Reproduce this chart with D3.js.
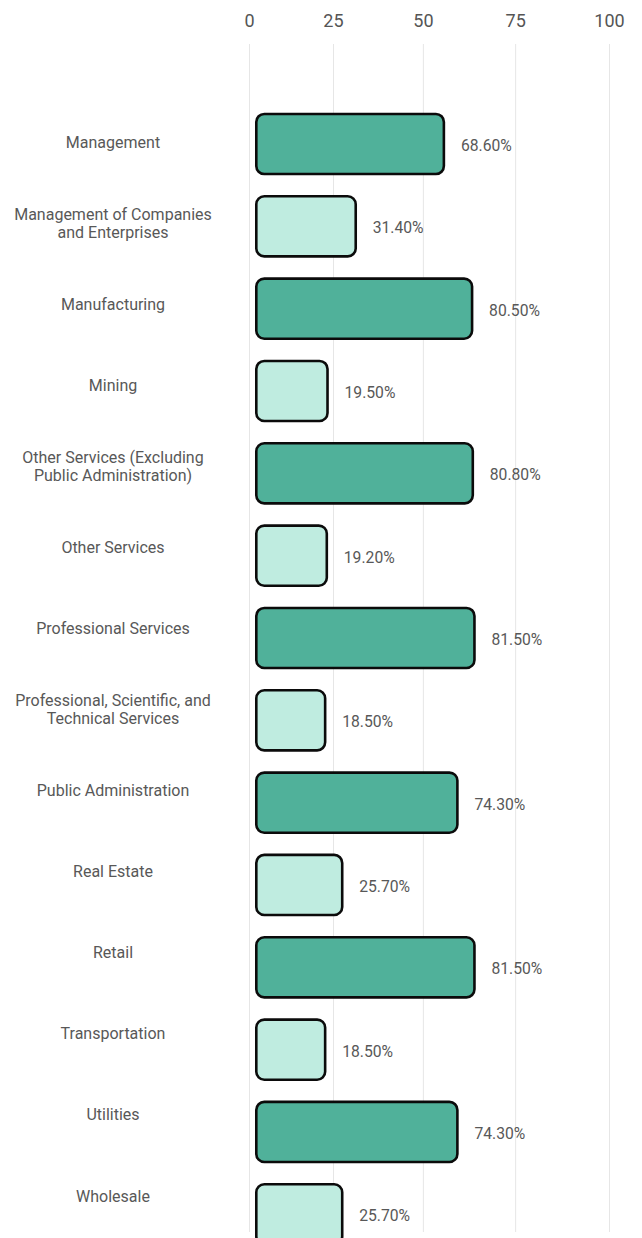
<!DOCTYPE html>
<html>
<head>
<meta charset="utf-8">
<script src="https://cdn.jsdelivr.net/npm/d3@7"></script>
<style>
  html, body { margin: 0; padding: 0; background: #ffffff; }
  svg { display: block; font-family: Roboto, "Noto Sans", sans-serif; }
</style>
</head>
<body>
<svg id="chart" width="642" height="1238"></svg>
<script>
// Industry categories, top to bottom
const categories = [
  "Management",
  "Management of Companies and Enterprises",
  "Manufacturing",
  "Mining",
  "Other Services (Excluding Public Administration)",
  "Other Services",
  "Professional Services",
  "Professional, Scientific, and Technical Services",
  "Public Administration",
  "Real Estate",
  "Retail",
  "Transportation",
  "Utilities",
  "Wholesale"
];

// Share of each category (percent)
const shares = [68.6, 31.4, 80.5, 19.5, 80.8, 19.2, 81.5, 18.5, 74.3, 25.7, 81.5, 18.5, 74.3, 25.7];

// Shade group for each bar: 0 = dark, 1 = light
const shadeGroup = [0, 1, 0, 1, 0, 1, 0, 1, 0, 1, 0, 1, 0, 1];

// Top axis ticks
const tickValues = [0, 25, 50, 75, 100];
const tickLabels = ["0", "25", "50", "75", "100"];

const W = 642, H = 1238;
const svg = d3.select("#chart");

const rows = categories.map((c, i) => ({ name: c, value: shares[i], shade: shadeGroup[i] }));

// Scales
const gridTop = 44, gridBottom = 1232;
const xGrid = d3.scalePow().exponent(1.05).domain([0, 100]).range([249, 609]);
const barBase = 256.3;
const xBar = d3.scaleLinear().domain([0, 100]).range([barBase + 25, barBase + 262]);
const step = 82.33;
const y = d3.scaleBand()
  .domain(categories)
  .range([144 - step / 2, 144 - step / 2 + step * categories.length])
  .paddingInner(0.27)
  .paddingOuter(0.135);
const yLabel = d3.scalePoint().domain(categories).range([142.7, 1195.9]);

const fill = d3.scaleOrdinal().domain([0, 1]).range(["#50b19a", "#bfece0"]);

// Top axis with full-height gridlines
const axis = d3.axisTop(xGrid)
  .tickValues(tickValues)
  .tickFormat((d, i) => tickLabels[i])
  .tickSize(-(gridBottom - gridTop))
  .tickPadding(17.5);

const gAxis = svg.append("g")
  .attr("transform", `translate(0,${gridTop})`)
  .call(axis);
gAxis.select(".domain").remove();
gAxis.selectAll(".tick line").attr("stroke", "#e6e6e6").attr("stroke-width", 1);
gAxis.selectAll(".tick text")
  .attr("fill", "#555")
  .style("font-size", "18px")
  .style("font-family", "Roboto, sans-serif");

// Bars
svg.append("g")
  .selectAll("rect")
  .data(rows)
  .join("rect")
  .attr("x", barBase)
  .attr("y", d => y(d.name))
  .attr("width", d => xBar(d.value) - barBase)
  .attr("height", y.bandwidth())
  .attr("rx", 8)
  .attr("ry", 8)
  .attr("fill", d => fill(d.shade))
  .attr("stroke", "#0b0b0b")
  .attr("stroke-width", 2.6);

// Value labels
svg.append("g")
  .selectAll("text")
  .data(rows)
  .join("text")
  .attr("x", d => xBar(d.value) + 17)
  .attr("y", d => y(d.name) + y.bandwidth() / 2 + 1.5)
  .attr("dy", "0.35em")
  .attr("fill", "#585858")
  .style("font-size", "15.7px")
  .text(d => d3.format(".2f")(d.value) + "%");

// Category labels, wrapped to a maximum width and centred on the label column
const maxLabelWidth = 206;
const lineHeight = 18;
const labelX = 113;
const gLabels = svg.append("g");
rows.forEach(d => {
  const t = gLabels.append("text")
    .attr("x", labelX)
    .attr("text-anchor", "middle")
    .attr("fill", "#585858")
    .style("font-size", "16px");
  const words = d.name.split(" ");
  const lines = [];
  let line = [];
  const probe = t.append("tspan");
  words.forEach(w => {
    line.push(w);
    probe.text(line.join(" "));
    if (probe.node().getComputedTextLength() > maxLabelWidth && line.length > 1) {
      line.pop();
      lines.push(line.join(" "));
      line = [w];
    }
  });
  lines.push(line.join(" "));
  probe.remove();
  const cy = yLabel(d.name);
  const firstY = cy - (lines.length - 1) * lineHeight / 2;
  lines.forEach((ln, k) => {
    t.append("tspan")
      .attr("x", labelX)
      .attr("y", firstY + k * lineHeight)
      .attr("dy", "0.35em")
      .text(ln);
  });
});
</script>
</body>
</html>
